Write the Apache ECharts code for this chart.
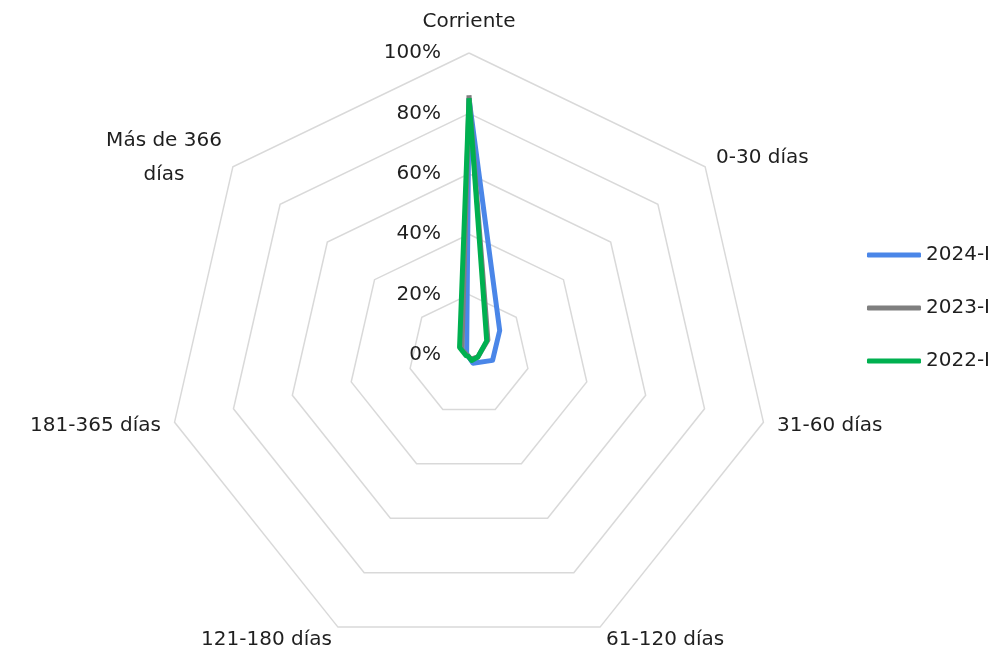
<!DOCTYPE html>
<html>
<head>
<meta charset="utf-8">
<script src="https://cdn.jsdelivr.net/npm/echarts@6/dist/echarts.min.js"></script>
<style>
  html, body { margin: 0; padding: 0; background: #fff; }
  #chart { width: 997px; height: 649px; }
</style>
</head>
<body>
<div id="chart"></div>
<script>
// categories, clockwise from top
var categories = ["Corriente", "0-30 días", "31-60 días", "61-120 días", "121-180 días", "181-365 días", "Más de 366\ndías"];
var seriesNames = ["2024-I", "2023-I", "2022-I"];
var data2024 = [0.85, 0.13, 0.08, 0.03, 0.005, 0.005, 0.01];
var data2023 = [0.86, 0.08, 0.03, 0.015, 0.005, 0.005, 0.03];
var data2022 = [0.85, 0.075, 0.03, 0.02, 0.005, 0.01, 0.04];
var colors = ["#4a86e8", "#7f7f7f", "#00b050"];

// echarts radar goes counterclockwise, so keep first and reverse the rest
function toCCW(arr) {
  return [arr[0]].concat(arr.slice(1).reverse());
}

var font = "DejaVu Sans";
var txtColor = "#1f1f1f";
var indicators = toCCW(categories).map(function (c, i) {
  var ind = { name: c, min: 0, max: 1 };
  if (i === 0) {
    ind.axisLabel = { show: true };
  }
  return ind;
});

var chart = echarts.init(document.getElementById("chart"));
var option = {
  backgroundColor: "#fff",
  color: colors,
  textStyle: { fontFamily: font },
  legend: {
    data: seriesNames,
    orient: "vertical",
    right: 2,
    top: 240,
    itemWidth: 54,
    itemHeight: 5,
    itemGap: 33,
    icon: "roundRect",
    textStyle: { fontSize: 20, color: txtColor, fontFamily: font }
  },
  radar: {
    center: [469, 355],
    radius: 302,
    startAngle: 90,
    splitNumber: 5,
    shape: "polygon",
    indicator: indicators,
    axisName: {
      color: txtColor,
      fontSize: 20,
      fontFamily: font,
      formatter: function (v) {
        return v.split("\n").map(function (s) { return "{c|" + s + "}"; }).join("\n");
      },
      rich: {
        c: { align: "center", fontSize: 20, color: txtColor, fontFamily: font, lineHeight: 34 }
      }
    },
    nameGap: 14,
    axisLine: { show: false },
    axisTick: { show: false },
    axisLabel: {
      show: false,
      fontSize: 20,
      color: txtColor,
      fontFamily: font,
      margin: 28,
      formatter: function (v) { return Math.round(v * 100) + "%"; }
    },
    splitLine: { lineStyle: { color: "#d9d9d9", width: 1.5 } },
    splitArea: { show: false }
  },
  series: [{
    type: "radar",
    symbol: "none",
    lineStyle: { width: 5 },
    data: [
      { name: seriesNames[0], value: toCCW(data2024), lineStyle: { color: colors[0], width: 5 }, itemStyle: { color: colors[0] } },
      { name: seriesNames[1], value: toCCW(data2023), lineStyle: { color: colors[1], width: 5 }, itemStyle: { color: colors[1] } },
      { name: seriesNames[2], value: toCCW(data2022), lineStyle: { color: colors[2], width: 5 }, itemStyle: { color: colors[2] } }
    ]
  }]
};
chart.setOption(option);
</script>
</body>
</html>
